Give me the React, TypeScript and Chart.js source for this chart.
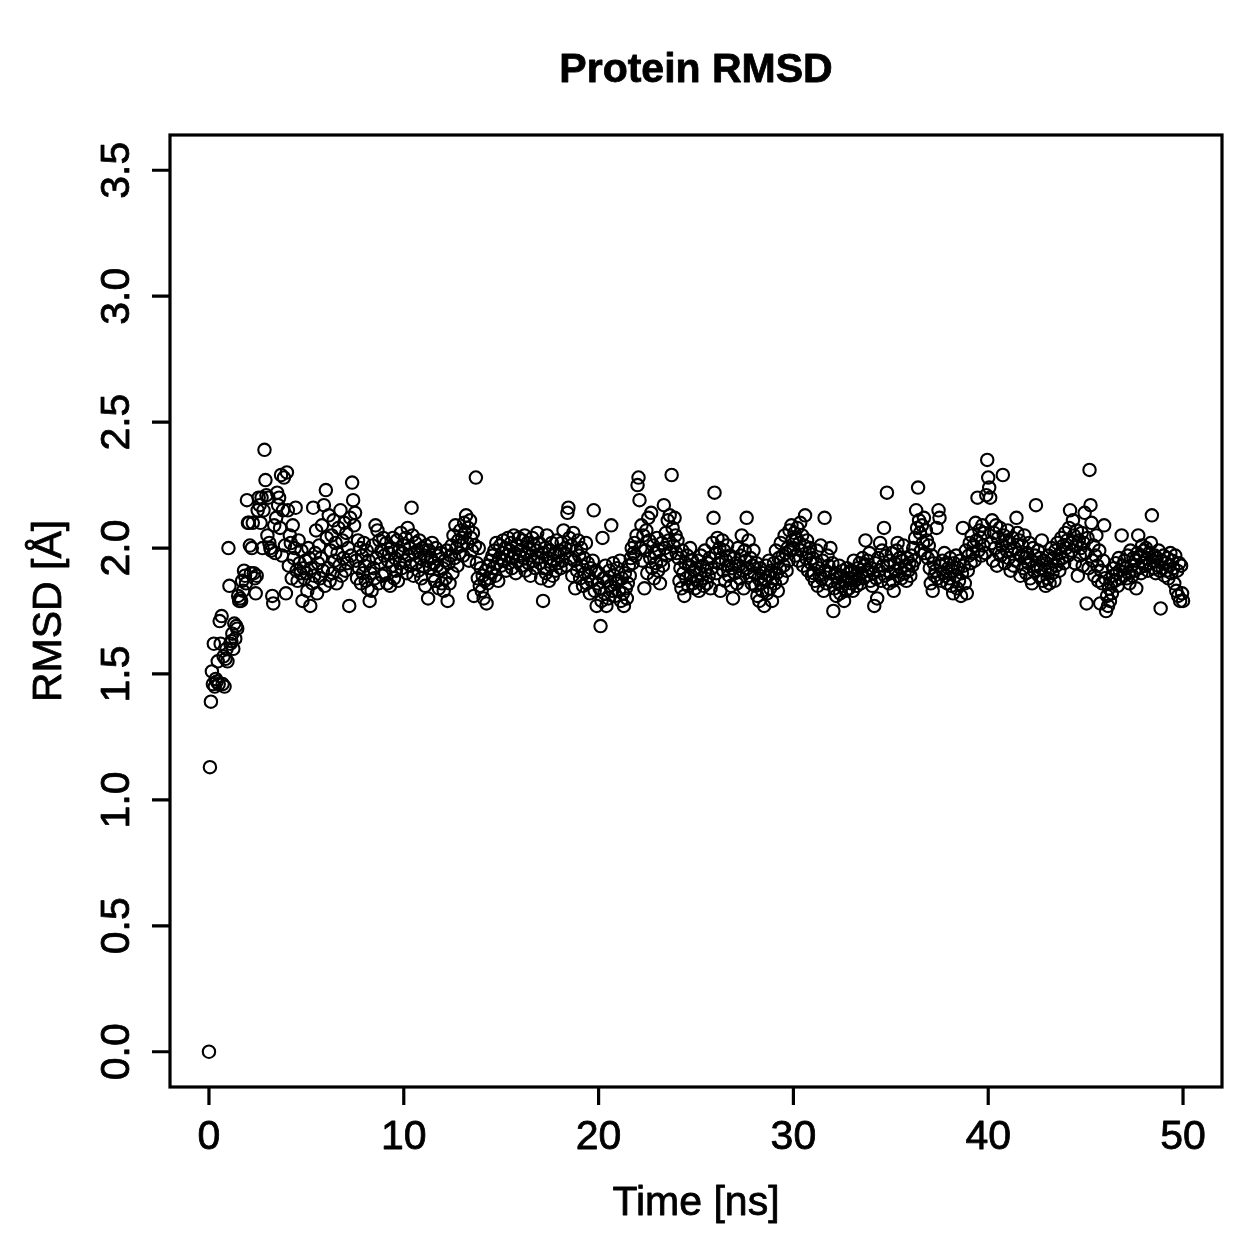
import React, { useEffect, useRef } from "react";
import { Chart, registerables } from "chart.js";

Chart.register(...registerables);

// Backbone RMSD of the protein, one frame every 50 ps (Å)
const TIME_STEP_NS = 0.05;

const rmsd00to10 = [
  0.00, 1.13, 1.39, 1.51, 1.46, 1.62, 1.45, 1.48, 1.47, 1.55, 1.46, 1.71, 1.62, 1.73, 1.46, 1.57, 1.45, 1.56, 1.60, 1.55,
  2.00, 1.85, 1.62, 1.63, 1.66, 1.60, 1.70, 1.64, 1.69, 1.68, 1.81, 1.79, 1.80, 1.79, 1.87, 1.83, 1.91, 1.89, 1.86, 2.19,
  2.10, 2.10, 2.01, 1.90, 2.00, 2.10, 1.90, 1.88, 1.82, 1.89, 2.15, 2.20, 2.17, 2.10, 2.20, 2.00, 2.15, 2.39, 2.27, 2.21,
  2.05, 2.20, 2.02, 2.00, 1.99, 1.81, 1.78, 2.09, 1.98, 2.12, 2.22, 2.17, 2.20, 2.08, 2.29, 1.97, 2.15, 2.28, 2.01, 1.82,
  2.30, 2.15, 1.93, 2.05, 2.02, 1.88, 2.09, 1.96, 2.00, 2.16, 1.91, 1.87, 2.03, 1.94, 1.90, 1.99, 1.79, 1.92, 1.88, 1.95,
  1.90, 1.83, 2.00, 1.96, 1.77, 1.92, 1.86, 2.16, 1.89, 1.98, 2.07, 1.82, 1.94, 2.01, 1.88, 1.96, 2.09, 1.91, 2.17, 1.85,
  2.23, 2.04, 1.92, 2.13, 1.87, 1.99, 2.05, 1.90, 2.11, 1.95, 2.02, 1.86, 1.98, 2.08, 1.93, 2.15, 1.89, 2.03, 1.96, 2.10,
  1.91, 2.06, 1.94, 2.00, 1.77, 2.12, 1.97, 2.26, 2.19, 2.09, 2.14, 1.95, 1.88, 2.03, 1.92, 2.00, 1.86, 1.97, 1.90, 2.02,
  1.93, 1.87, 1.99, 1.84, 1.95, 1.79, 1.90, 1.83, 2.01, 1.92, 1.88, 2.09, 1.96, 2.07, 1.86, 2.03, 1.94, 1.99, 1.89, 2.04,
  1.97, 1.90, 2.02, 1.86, 1.95, 1.98, 1.85, 2.00, 1.93, 2.04, 1.88, 1.96, 1.91, 2.03, 1.87, 1.99, 1.94, 2.06, 1.92, 1.98,
];

const rmsd10to20 = [
  2.01, 1.95, 2.04, 1.90, 2.08, 1.97, 2.00, 1.93, 2.16, 2.05, 1.89, 1.98, 2.02, 1.94, 1.99, 1.91, 2.03, 1.96, 1.88, 2.00,
  1.93, 1.97, 1.85, 2.01, 1.95, 1.80, 1.99, 1.92, 1.96, 2.02, 1.89, 1.94, 1.87, 2.00, 1.93, 1.97, 1.84, 1.91, 1.98, 1.86,
  1.92, 1.83, 1.95, 1.88, 1.99, 1.79, 1.94, 1.86, 1.97, 2.01, 1.90, 2.05, 1.96, 2.09, 2.00, 1.93, 2.03, 1.98, 2.07, 2.01,
  2.04, 1.97, 2.10, 2.06, 2.13, 2.02, 2.08, 1.95, 2.11, 2.04, 1.99, 2.06, 1.81, 2.01, 2.28, 1.94, 1.88, 2.00, 1.85, 1.92,
  1.83, 1.89, 1.80, 1.87, 1.91, 1.78, 1.86, 1.93, 1.88, 1.95, 1.90, 1.97, 1.92, 1.99, 1.89, 2.02, 1.94, 1.87, 1.96, 2.01,
  1.93, 1.98, 2.03, 1.95, 2.00, 1.91, 1.97, 2.04, 1.94, 1.99, 2.02, 1.92, 1.96, 2.05, 1.98, 1.90, 2.01, 1.95, 2.04, 1.97,
  1.99, 1.93, 2.03, 1.96, 2.05, 1.91, 1.98, 2.02, 1.94, 2.00, 1.89, 1.97, 2.04, 1.95, 2.01, 1.92, 1.99, 2.06, 1.96, 2.02,
  1.94, 1.88, 1.98, 1.79, 1.92, 2.00, 1.90, 2.05, 1.96, 1.87, 1.99, 1.93, 2.02, 1.89, 1.95, 1.98, 1.91, 2.03, 1.94, 1.97,
  1.99, 1.92, 2.02, 1.95, 2.07, 1.98, 2.00, 1.93, 2.14, 2.16, 2.04, 1.96, 2.01, 1.89, 2.06, 1.95, 1.84, 1.99, 1.91, 2.03,
  1.97, 1.88, 2.00, 1.93, 1.85, 1.96, 1.90, 2.02, 1.86, 1.94, 1.89, 1.82, 1.92, 1.87, 1.95, 2.15, 1.83, 1.91, 1.77, 1.86,
];

const rmsd20to30 = [
  1.90, 1.84, 1.69, 1.79, 2.04, 1.88, 1.82, 1.93, 1.77, 1.87, 1.80, 1.91, 1.85, 2.09, 1.83, 1.94, 1.89, 1.81, 1.86, 1.92,
  1.87, 1.83, 1.95, 1.79, 1.88, 1.82, 1.77, 1.90, 1.84, 1.80, 1.86, 1.93, 1.89, 1.96, 2.00, 1.94, 1.98, 2.02, 1.97, 2.05,
  2.25, 2.28, 2.19, 2.00, 2.09, 1.95, 2.05, 1.84, 1.99, 2.07, 1.90, 2.12, 2.03, 1.96, 2.14, 1.92, 2.01, 1.88, 1.98, 1.94,
  2.04, 1.91, 1.99, 1.86, 1.95, 2.02, 1.93, 2.17, 2.00, 2.06, 1.97, 2.11, 2.03, 2.13, 1.98, 2.29, 2.08, 2.01, 2.12, 2.05,
  1.98, 2.03, 1.96, 1.87, 1.92, 1.84, 1.99, 1.90, 1.81, 1.94, 1.88, 1.97, 1.85, 1.93, 2.00, 1.89, 1.95, 1.86, 1.91, 1.84,
  1.92, 1.87, 1.95, 1.83, 1.90, 1.97, 1.88, 1.93, 1.85, 1.99, 1.91, 1.86, 1.94, 1.89, 1.96, 1.84, 1.92, 2.02, 2.12, 2.22,
  1.98, 1.90, 2.04, 1.94, 2.00, 1.83, 1.96, 2.03, 1.91, 1.99, 1.87, 1.95, 2.01, 1.93, 1.89, 1.97, 1.85, 1.92, 1.80, 1.96,
  1.90, 1.94, 1.86, 2.00, 1.93, 1.88, 1.97, 2.05, 1.91, 1.84, 1.99, 1.95, 2.12, 1.92, 2.03, 1.89, 1.96, 1.86, 1.93, 1.99,
  1.90, 1.85, 1.94, 1.81, 1.88, 1.79, 1.92, 1.86, 1.83, 1.90, 1.77, 1.87, 1.93, 1.82, 1.89, 1.95, 1.84, 1.91, 1.79, 1.88,
  1.94, 1.86, 1.99, 1.90, 1.83, 1.96, 1.92, 2.02, 1.88, 1.97, 1.93, 2.05, 1.98, 1.91, 2.00, 1.95, 2.07, 1.99, 2.09, 2.03,
];

const rmsd30to40 = [
  2.00, 2.06, 1.97, 2.04, 2.08, 1.95, 2.02, 2.10, 1.99, 2.05, 1.93, 2.01, 2.13, 1.96, 2.03, 1.91, 1.98, 2.00, 1.94, 1.89,
  1.96, 1.90, 1.87, 1.94, 1.99, 1.85, 1.92, 1.89, 2.01, 1.88, 1.95, 1.83, 2.12, 1.91, 1.86, 1.97, 1.93, 1.90, 2.00, 1.87,
  1.94, 1.75, 1.84, 1.90, 1.81, 1.88, 1.86, 1.93, 1.82, 1.89, 1.85, 1.91, 1.79, 1.87, 1.83, 1.92, 1.88, 1.84, 1.90, 1.86,
  1.91, 1.83, 1.95, 1.87, 1.89, 1.85, 1.92, 1.88, 1.94, 1.86, 1.90, 1.96, 1.88, 1.93, 2.03, 1.89, 1.95, 1.91, 1.98, 1.87,
  1.92, 1.85, 1.90, 1.77, 1.94, 1.88, 1.80, 1.96, 1.91, 2.02, 1.87, 1.99, 1.93, 2.08, 1.89, 1.97, 2.22, 1.93, 1.86, 1.95,
  1.90, 1.98, 1.87, 1.83, 1.94, 1.91, 1.99, 2.02, 1.89, 1.96, 1.92, 1.88, 1.95, 2.01, 1.90, 1.93, 1.87, 1.96, 1.91, 1.94,
  1.89, 1.97, 1.93, 2.00, 1.95, 2.04, 2.15, 2.08, 2.24, 2.11, 2.06, 1.99, 2.09, 2.02, 2.12, 1.98, 2.07, 2.03, 1.96, 2.01,
  1.92, 1.86, 1.97, 1.83, 1.94, 1.89, 1.91, 2.08, 1.88, 2.15, 2.12, 1.93, 1.87, 1.95, 1.90, 1.98, 1.89, 1.94, 1.86, 1.92,
  1.88, 1.96, 1.85, 1.91, 1.82, 1.94, 1.89, 1.97, 1.84, 1.92, 1.87, 1.95, 1.81, 1.90, 2.08, 1.93, 1.86, 1.99, 1.82, 1.91,
  1.97, 2.02, 1.94, 2.05, 1.98, 2.01, 1.95, 2.10, 2.03, 2.20, 1.99, 2.07, 2.04, 1.97, 2.09, 2.01, 2.06, 1.98, 2.21, 2.35,
];

const rmsd40to50 = [
  2.28, 2.24, 2.20, 2.02, 2.11, 1.95, 2.06, 2.00, 2.09, 1.93, 2.04, 1.98, 2.08, 1.97, 2.01, 2.29, 2.05, 1.94, 2.03, 1.99,
  2.07, 1.96, 2.02, 1.91, 1.99, 2.04, 1.93, 2.00, 1.95, 2.12, 2.06, 1.98, 2.03, 1.89, 1.97, 2.01, 1.92, 2.05, 1.96, 1.90,
  1.98, 1.94, 2.02, 1.88, 1.95, 1.86, 2.00, 1.91, 1.97, 2.17, 1.93, 1.99, 1.89, 1.96, 1.92, 2.03, 1.87, 1.95, 1.91, 1.85,
  1.94, 1.88, 1.97, 1.86, 1.92, 2.00, 1.90, 1.96, 1.87, 1.99, 1.93, 2.02, 1.95, 1.91, 1.98, 2.04, 1.96, 2.01, 1.94, 2.06,
  2.00, 2.03, 1.97, 2.08, 2.15, 2.02, 1.99, 2.11, 2.05, 1.94, 2.01, 2.07, 1.89, 2.03, 1.97, 2.00, 2.06, 1.93, 2.02, 2.14,
  1.98, 1.78, 2.04, 1.92, 2.31, 2.17, 2.10, 1.95, 2.01, 1.89, 1.97, 2.05, 1.93, 1.87, 1.99, 1.78, 1.91, 1.86, 1.95, 2.09,
  1.88, 1.75, 1.81, 1.77, 1.84, 1.79, 1.86, 1.82, 1.89, 1.92, 1.87, 1.94, 1.90, 1.85, 1.96, 1.91, 1.88, 2.05, 1.93, 1.89,
  1.95, 1.92, 1.88, 1.97, 1.90, 1.86, 1.99, 1.93, 1.89, 1.96, 1.91, 1.95, 1.84, 1.98, 2.05, 1.92, 1.97, 1.90, 2.01, 1.94,
  1.99, 1.93, 2.00, 1.96, 1.91, 1.98, 1.94, 2.02, 2.13, 1.95, 1.92, 1.97, 1.90, 1.96, 1.93, 1.99, 1.91, 1.76, 1.95, 1.92,
  1.97, 1.89, 1.94, 1.91, 1.96, 1.88, 1.93, 1.98, 1.90, 1.95, 1.92, 1.86, 1.97, 1.83, 1.91, 1.81, 1.94, 1.79, 1.93, 1.82,
  1.79,
];

// Axis ticks and labels
const xTicks = [0, 10, 20, 30, 40, 50];
const xTickLabels = ["0", "10", "20", "30", "40", "50"];
const yTicks = [0, 0.5, 1, 1.5, 2, 2.5, 3, 3.5];
const yTickLabels = ["0.0", "0.5", "1.0", "1.5", "2.0", "2.5", "3.0", "3.5"];

const TITLE = "Protein RMSD";
const X_TITLE = "Time [ns]";
const Y_TITLE = "RMSD [Å]";

const rmsdValues = [...rmsd00to10, ...rmsd10to20, ...rmsd20to30, ...rmsd30to40, ...rmsd40to50];
const points = rmsdValues.map((v, i) => ({ x: Math.round(i * TIME_STEP_NS * 100) / 100, y: v }));

const FONT = '"Liberation Sans", Arial, Helvetica, sans-serif';
const POINT_RADIUS = 6.2;
const POINT_LINE = 2.1;
const FRAME_LINE = 3.2;

// Draws text with a thin outline so glyphs match the heavier plot strokes
function label(ctx: CanvasRenderingContext2D, text: string, x: number, y: number, rot = 0) {
  ctx.save();
  ctx.translate(x, y);
  if (rot) ctx.rotate(rot);
  ctx.fillText(text, 0, 0);
  ctx.strokeText(text, 0, 0);
  ctx.restore();
}

// Base-graphics style frame: box, outward ticks, rotated y labels
const baseFrame = {
  id: "baseFrame",
  afterDraw(chart: any) {
    const { ctx, chartArea } = chart;
    const { left, right, top, bottom } = chartArea;
    const xs = chart.scales.x;
    const ys = chart.scales.y;
    ctx.save();
    ctx.strokeStyle = "#000";
    ctx.fillStyle = "#000";
    ctx.lineWidth = FRAME_LINE;
    ctx.strokeRect(left, top, right - left, bottom - top);

    ctx.beginPath();
    xTicks.forEach((v) => {
      const px = xs.getPixelForValue(v);
      ctx.moveTo(px, bottom);
      ctx.lineTo(px, bottom + 18);
    });
    yTicks.forEach((v) => {
      const py = ys.getPixelForValue(v);
      ctx.moveTo(left, py);
      ctx.lineTo(left - 18, py);
    });
    ctx.stroke();

    ctx.lineWidth = 0.8;
    ctx.lineJoin = "round";
    ctx.font = `41px ${FONT}`;
    ctx.textAlign = "center";
    ctx.textBaseline = "middle";
    xTicks.forEach((v, i) => label(ctx, xTickLabels[i], xs.getPixelForValue(v), bottom + 51));
    yTicks.forEach((v, i) => label(ctx, yTickLabels[i], left - 52, ys.getPixelForValue(v), -Math.PI / 2));

    label(ctx, X_TITLE, (left + right) / 2, bottom + 117);
    label(ctx, Y_TITLE, left - 120, (top + bottom) / 2, -Math.PI / 2);

    ctx.font = `bold 41px ${FONT}`;
    label(ctx, TITLE, (left + right) / 2, top - 64);
    ctx.restore();
  },
};

export default function App() {
  const canvasRef = useRef<HTMLCanvasElement | null>(null);

  useEffect(() => {
    const canvas = canvasRef.current;
    if (!canvas) return;
    const chart = new Chart(canvas, {
      type: "scatter",
      data: {
        datasets: [
          {
            label: "RMSD",
            data: points,
            pointStyle: "circle",
            pointRadius: POINT_RADIUS,
            pointBorderWidth: POINT_LINE,
            borderColor: "#000",
            backgroundColor: "rgba(0,0,0,0)",
          } as any,
        ],
      },
      options: {
        animation: false,
        responsive: false,
        devicePixelRatio: 1,
        layout: { padding: { left: 170, right: 37, top: 135, bottom: 172 } },
        plugins: { legend: { display: false }, tooltip: { enabled: false }, title: { display: false } },
        scales: {
          x: { type: "linear", min: -2, max: 52, display: false },
          y: { type: "linear", min: -0.14, max: 3.64, display: false },
        },
      },
      plugins: [baseFrame],
    });
    return () => chart.destroy();
  }, []);

  return (
    <div style={{ position: "absolute", left: 0, top: 0, width: 1259, height: 1259, background: "#fff" }}>
      <canvas ref={canvasRef} width={1259} height={1259} style={{ display: "block" }} />
    </div>
  );
}
